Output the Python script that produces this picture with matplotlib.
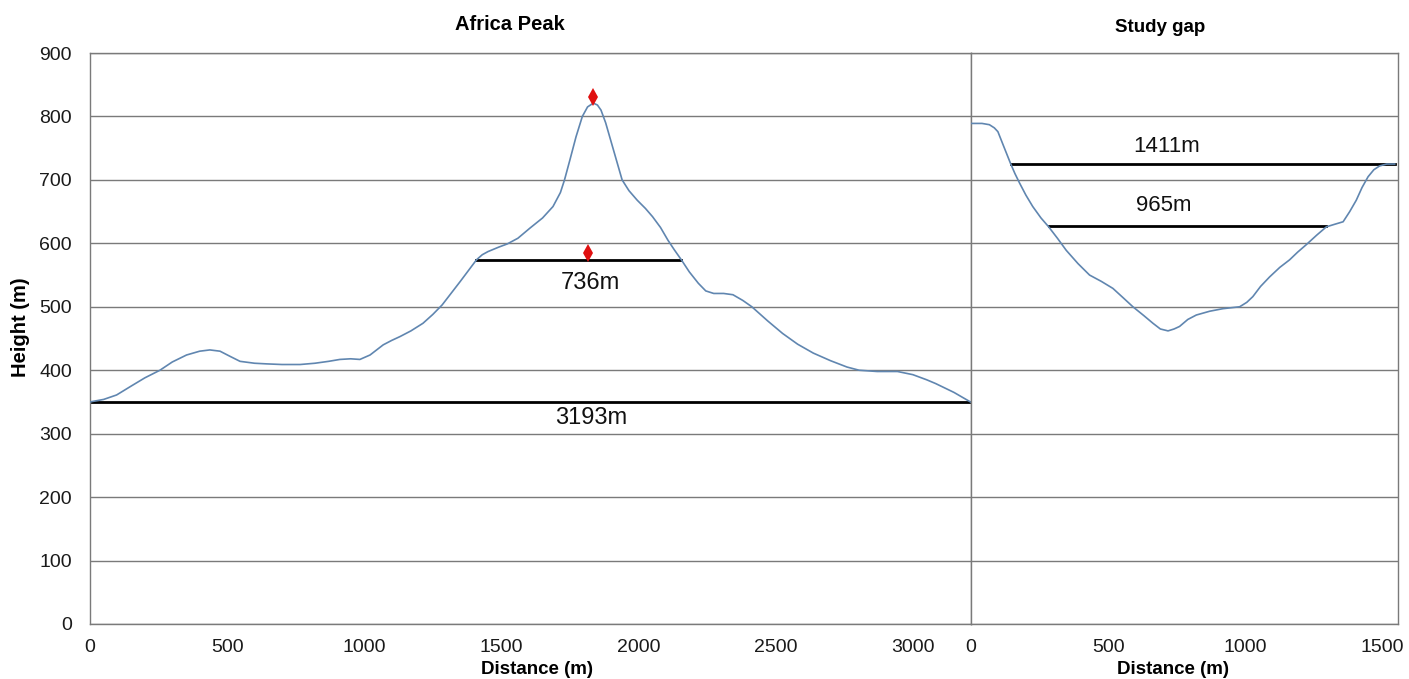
import matplotlib
matplotlib.use("Agg")
import matplotlib.pyplot as plt

plt.rcParams['font.family'] = ['Liberation Sans', 'DejaVu Sans']

# ---- data: Africa Peak profile ----
peak_x = [0, 50, 97, 150, 200, 255, 300, 352, 400, 437, 474, 510, 547, 600, 644,
          700, 766, 820, 870, 911, 950, 984, 1021, 1069, 1100, 1130, 1170, 1214,
          1250, 1284, 1350, 1409, 1430, 1451, 1490, 1521, 1560, 1604, 1650, 1688,
          1715, 1730, 1750, 1772, 1795, 1814, 1835, 1850, 1863, 1880, 1898, 1920,
          1940, 1965, 1995, 2025, 2051, 2080, 2107, 2130, 2156, 2185, 2218, 2245,
          2274, 2310, 2344, 2380, 2413, 2470, 2525, 2580, 2637, 2700, 2760, 2804,
          2870, 2944, 3000, 3050, 3083, 3150, 3210]
peak_y = [350, 354, 361, 375, 388, 400, 413, 424, 430, 432, 430, 422, 414, 411, 410,
          409, 409, 411, 414, 417, 418, 417, 424, 440, 447, 453, 462, 474,
          488, 503, 540, 574, 582, 587, 594, 599, 608, 624, 640, 658,
          680, 700, 732, 768, 800, 815, 821, 818, 810, 790, 763, 730,
          700, 683, 668, 655, 642, 625, 605, 590, 574, 555, 537, 525,
          521, 521, 519, 510, 500, 478, 458, 441, 427, 415, 405, 400,
          398, 398, 393, 385, 379, 365, 350]

# ---- data: Study gap profile ----
gap_x = [0, 40, 67, 85, 98, 120, 144, 160, 177, 200, 225, 255, 283, 315, 347, 390,
         432, 475, 517, 555, 590, 630, 663, 690, 718, 740, 760, 790, 821, 870, 918,
         979, 1005, 1027, 1055, 1088, 1125, 1161, 1190, 1222, 1260, 1295, 1325,
         1356, 1380, 1404, 1425, 1447, 1468, 1489, 1515, 1544]
gap_y = [789, 789, 787, 782, 776, 752, 726, 710, 695, 676, 658, 640, 626, 608, 589, 568,
         550, 540, 529, 514, 500, 486, 474, 465, 462, 465, 469, 480, 487, 493, 497,
         500, 507, 516, 532, 547, 562, 574, 586, 598, 613, 626, 630,
         634, 650, 668, 688, 705, 716, 722, 725, 725]

# width lines
peak_lines_x = [(0, 3210), (1409, 2156)]
peak_lines_y = [350, 574]
peak_labels = ["3193m", "736m"]
peak_label_pos = [(1828, 324), (1823, 538)]

gap_lines_x = [(144, 1544), (283, 1295)]
gap_lines_y = [725, 627]
gap_labels = ["1411m", "965m"]
gap_label_pos = [(712, 752), (702, 659)]

marker_x = [1835, 1814]
marker_y = [831, 585]

yticks = [0, 100, 200, 300, 400, 500, 600, 700, 800, 900]
peak_xticks = [0, 500, 1000, 1500, 2000, 2500, 3000]
gap_xticks = [0, 500, 1000, 1500]

W, H = 1409, 679
fig = plt.figure(figsize=(W / 100, H / 100), dpi=100)
ax1 = fig.add_axes([90 / W, 55 / H, 881 / W, 571 / H])
ax2 = fig.add_axes([971 / W, 55 / H, 427 / W, 571 / H])

grid_col = '#7a7a7a'
line_col = '#6086b0'

for ax in (ax1, ax2):
    ax.set_ylim(0, 900)
    ax.set_yticks(yticks)
    ax.yaxis.grid(True, color=grid_col, linewidth=1.0)
    ax.set_axisbelow(True)
    for s in ax.spines.values():
        s.set_color(grid_col)
        s.set_linewidth(1.0)
    ax.tick_params(length=0, labelsize=14, colors='#1a1a1a')
    ax.tick_params(axis='x', pad=11)
    ax.tick_params(axis='y', pad=13)

ax1.set_xlim(0, 3212)
ax1.set_xticks(peak_xticks)
ax2.set_xlim(0, 1556)
ax2.set_xticks(gap_xticks)
ax2.tick_params(axis='y', labelleft=False)

ax1.plot(peak_x, peak_y, color=line_col, linewidth=1.2, zorder=3)
ax2.plot(gap_x, gap_y, color=line_col, linewidth=1.2, zorder=3)

for (xs, xe), y, lab, (lx, ly) in zip(peak_lines_x, peak_lines_y, peak_labels, peak_label_pos):
    ax1.plot([xs, xe], [y, y], color='black', linewidth=2, zorder=2)
    ax1.text(lx, ly, lab, ha='center', va='center', fontsize=17, color='#111111')

for (xs, xe), y, lab, (lx, ly) in zip(gap_lines_x, gap_lines_y, gap_labels, gap_label_pos):
    ax2.plot([xs, xe], [y, y], color='black', linewidth=2, zorder=2)
    ax2.text(lx, ly, lab, ha='center', va='center', fontsize=16, color='#111111')

ax1.plot(marker_x, marker_y, linestyle='none', marker='d', color='#e01010',
         markersize=9, markeredgewidth=0, zorder=4)

fig.text(510 / W, 1 - 25 / H, "Africa Peak", ha='center', va='center',
         fontsize=14.5, fontweight='bold')
fig.text(1160 / W, 1 - 27 / H, "Study gap", ha='center', va='center',
         fontsize=13.5, fontweight='bold')
fig.text(537 / W, 1 - 669 / H, "Distance (m)", ha='center', va='center',
         fontsize=13.5, fontweight='bold')
fig.text(1173 / W, 1 - 669 / H, "Distance (m)", ha='center', va='center',
         fontsize=13.5, fontweight='bold')
fig.text(21 / W, 1 - 327 / H, "Height (m)", ha='center', va='center',
         rotation=90, fontsize=14.5, fontweight='bold')

fig.savefig("out.png", dpi=100)
